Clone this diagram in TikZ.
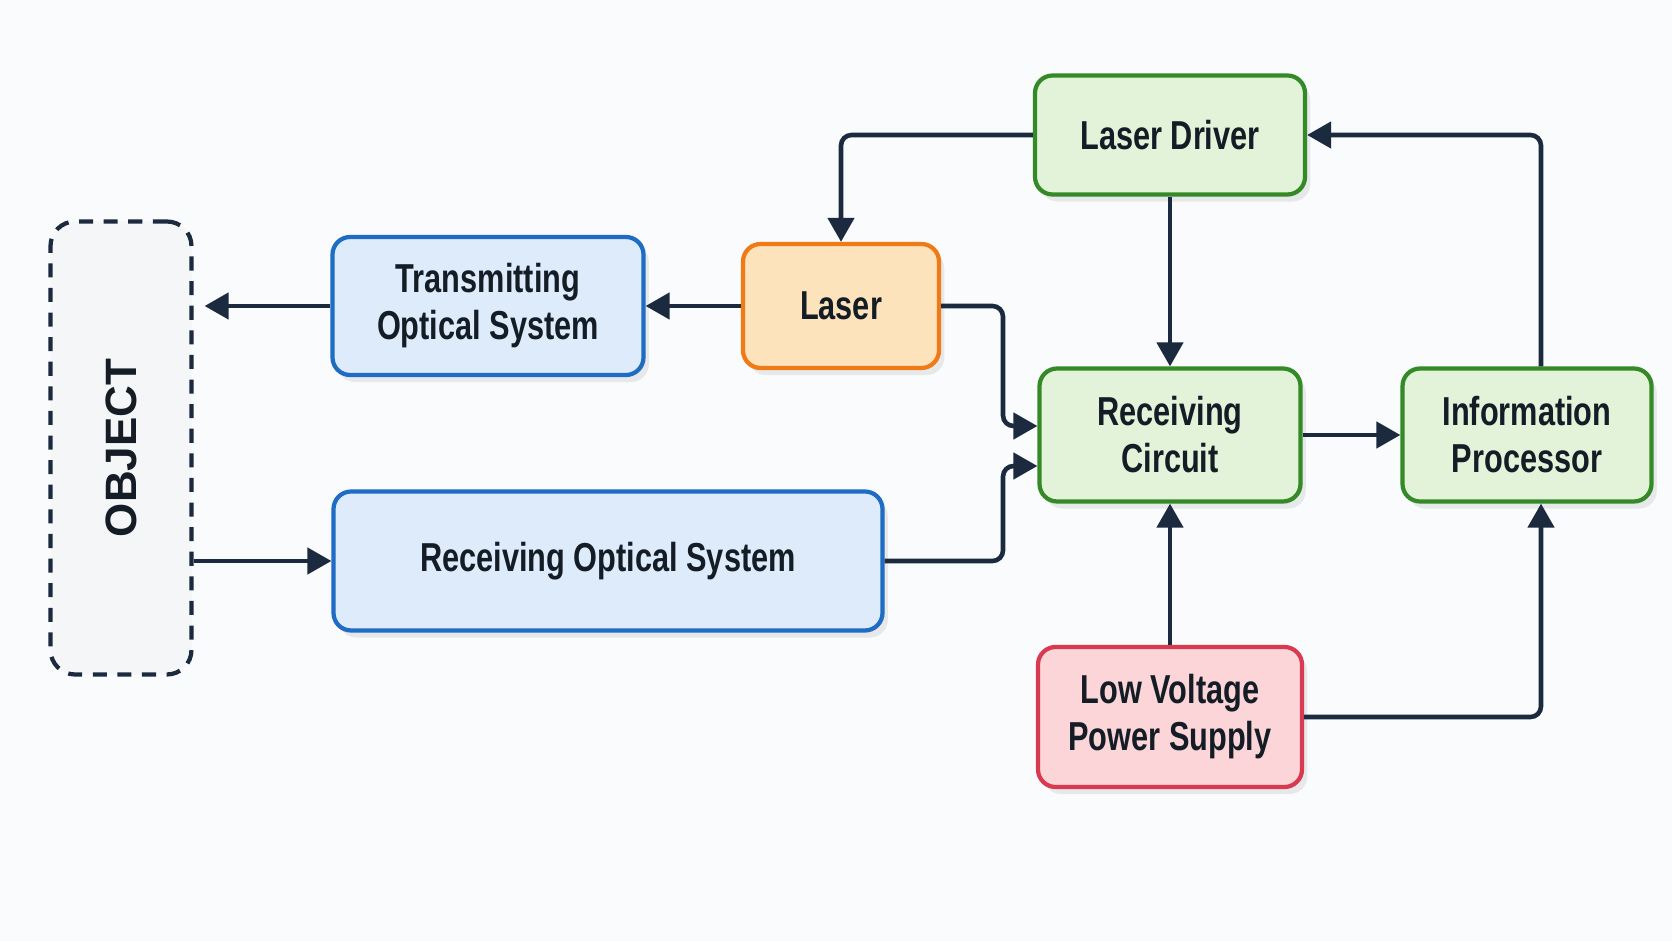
\documentclass[tikz,border=0pt]{standalone}
\usepackage{fontspec}
\setmainfont{Liberation Sans}[FakeStretch=0.76]
\newfontfamily\objfont{Liberation Sans}
\usepackage{tikz}
\usetikzlibrary{positioning, calc, arrows.meta, shadows}
\definecolor{Dark}{HTML}{1B2A3F}
\definecolor{Ink}{HTML}{141C26}
\definecolor{BlueFill}{HTML}{DDEBFA}
\definecolor{BlueLine}{HTML}{1E6CC4}
\definecolor{GreenFill}{HTML}{E2F3D9}
\definecolor{GreenLine}{HTML}{338A26}
\definecolor{OrangeFill}{HTML}{FDE3BC}
\definecolor{OrangeLine}{HTML}{F07A16}
\definecolor{RedFill}{HTML}{FBD5D7}
\definecolor{RedLine}{HTML}{D83A52}
\definecolor{Paper}{HTML}{FAFBFC}
\definecolor{ObjFill}{HTML}{F5F6F8}
\tikzset{
    block/.style={rectangle, rounded corners=5pt, line width=1.2pt, text=Ink, align=center, inner sep=0pt,
        font=\bfseries\fontsize{11.5}{13.4}\selectfont,
        drop shadow={opacity=0.15, shadow xshift=1.5pt, shadow yshift=-2pt}},
    optic/.style={block, draw=BlueLine, fill=BlueFill},
    ctrl/.style={block, draw=GreenLine, fill=GreenFill},
    source/.style={block, draw=OrangeLine, fill=OrangeFill},
    power/.style={block, draw=RedLine, fill=RedFill},
    objbox/.style={rectangle, rounded corners=7pt, draw=Dark, fill=ObjFill, line width=1.2pt, dash pattern=on 4pt off 3pt},
    arrow/.style={-{Triangle[length=2.4mm, width=2.6mm]}, line width=1.3pt, color=Dark, rounded corners=3pt},
}

\begin{document}
\begin{tikzpicture}
    % Sfondo
    \fill[Paper] (0,0) rectangle (16.72,9.41);
    \useasboundingbox (0,0) rectangle (16.72,9.41);

    % --- OBJECT ---
    \node[objbox, minimum width=1.41cm, minimum height=4.53cm] (obj) at (1.21, 4.93) {};
    \node[rotate=90, font=\objfont\bfseries\fontsize{12.5}{15}\selectfont, text=Ink] (objtxt) at (obj.center) {OBJECT};

    % --- Ottica ---
    \node[optic, minimum width=3.11cm, minimum height=1.38cm] (tos) at (4.88, 6.35) {Transmitting\\Optical System};
    \node[optic, minimum width=5.49cm, minimum height=1.39cm] (ros) at (6.08, 3.80) {Receiving Optical System};

    % --- Sorgente ---
    \node[source, minimum width=1.96cm, minimum height=1.24cm] (laser) at (8.41, 6.35) {Laser};

    % --- Elettronica ---
    \node[ctrl, minimum width=2.70cm, minimum height=1.19cm] (ldrv) at (11.70, 8.06) {Laser Driver};
    \node[ctrl, minimum width=2.61cm, minimum height=1.33cm] (rcirc) at (11.70, 5.06) {Receiving\\Circuit};
    \node[ctrl, minimum width=2.49cm, minimum height=1.33cm] (infop) at (15.27, 5.06) {Information\\Processor};
    \node[power, minimum width=2.64cm, minimum height=1.40cm] (lvps) at (11.70, 2.24) {Low Voltage\\Power Supply};

    % Punti di appoggio
    \coordinate (bus) at (10.03, 0);
    \coordinate (rcin1) at ([yshift=0.09cm]rcirc.west);
    \coordinate (rcin2) at ([yshift=-0.31cm]rcirc.west);
    \coordinate (ipup) at ([xshift=0.14cm]infop.north);
    \coordinate (ipdn) at ([xshift=0.14cm]infop.south);
    \coordinate (objin) at ([xshift=0.11cm]tos.west -| obj.east);

    % --- Collegamenti ---
    \draw[arrow] (ldrv.west) -| (laser.north);
    \draw[arrow] (laser.west) -- (tos.east);
    \draw[arrow] (tos.west) -- (objin);
    \draw[arrow] (obj.east |- ros.west) -- (ros.west);
    \draw[arrow] (laser.east) -| (bus |- rcin1) -- (rcin1);
    \draw[arrow] (ros.east) -| (bus |- rcin2) -- (rcin2);
    \draw[arrow] (ldrv.south) -- (rcirc.north);
    \draw[arrow] (rcirc.east) -- (infop.west);
    \draw[arrow] (ipup) |- (ldrv.east);
    \draw[arrow] (lvps.north) -- (rcirc.south);
    \draw[arrow] (lvps.east) -| (ipdn);

\end{tikzpicture}
\end{document}
